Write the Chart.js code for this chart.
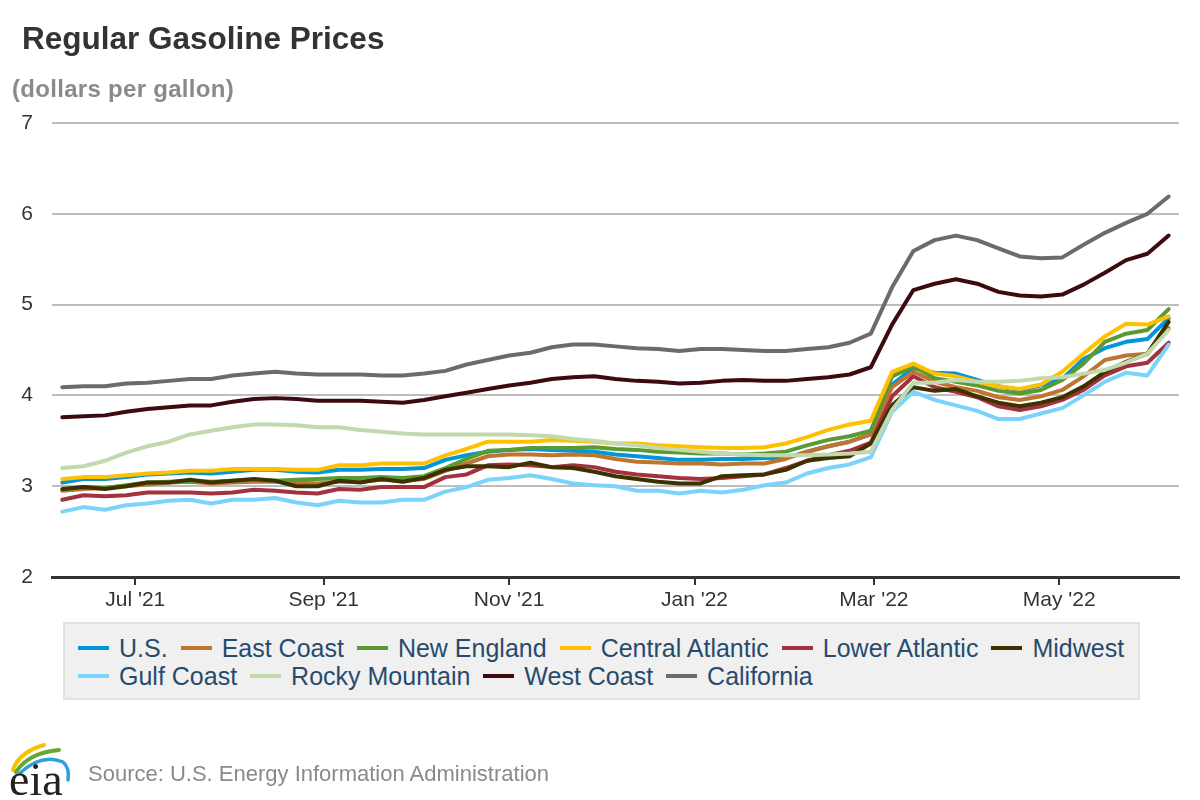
<!DOCTYPE html>
<html>
<head>
<meta charset="utf-8">
<script src="https://cdn.jsdelivr.net/npm/chart.js@4.4.0/dist/chart.umd.min.js"></script>
<style>
  html, body { margin: 0; padding: 0; background: #ffffff; }
  #wrap { position: relative; width: 1200px; height: 800px; overflow: hidden;
          font-family: "Liberation Sans", Arial, Helvetica, sans-serif; }
  #chart { position: absolute; left: 0; top: 0; }
  #title { position: absolute; left: 22px; top: 23px; font-size: 31.5px; line-height: 31.5px;
           font-weight: bold; color: #333333; white-space: nowrap; }
  #subtitle { position: absolute; left: 12px; top: 77px; font-size: 24px; line-height: 24px;
              font-weight: bold; color: #8a8a8a; letter-spacing: 0.3px; white-space: nowrap; }
  #legend { position: absolute; left: 63px; top: 622px; width: 1077px; box-sizing: border-box;
            background: #f0f0f0; border: 2px solid #e2e2e2; padding: 10px 0 8px 13px;
            display: flex; flex-wrap: wrap; column-gap: 13px; }
  #legend .item { display: flex; align-items: center; height: 28px; font-size: 25px;
                  color: #274b6d; white-space: nowrap; }
  #legend .sw { width: 31px; height: 4px; margin-right: 10px; }
  #source { position: absolute; left: 88px; top: 763px; font-size: 22px; line-height: 22px;
            color: #8a8a8a; white-space: nowrap; }
  #logo { position: absolute; left: 4px; top: 738px; }
</style>
</head>
<body>
<div id="wrap">
  <canvas id="chart" width="1200" height="800"></canvas>
  <div id="title">Regular Gasoline Prices</div>
  <div id="subtitle">(dollars per gallon)</div>
  <div id="legend"></div>
  <svg id="logo" width="70" height="62" viewBox="0 0 70 62">
    <path d="M9 32 Q 15 14 40 7" fill="none" stroke="#f3c300" stroke-width="4" stroke-linecap="round"/>
    <path d="M12 34 Q 24 15 55 12" fill="none" stroke="#6aa532" stroke-width="4" stroke-linecap="round"/>
    <path d="M15 36 Q 37 15 59 24 Q 66 30 64 42" fill="none" stroke="#2aa2dc" stroke-width="3.5" stroke-linecap="round"/>
    <text x="5" y="57" font-family="'Liberation Serif','DejaVu Serif',serif" font-size="46" fill="#222">eia</text>
  </svg>
  <div id="source">Source: U.S. Energy Information Administration</div>
</div>
<script>
// ---------- data ----------
const weeks = [
  '2021-06-07','2021-06-14','2021-06-21','2021-06-28','2021-07-05','2021-07-12','2021-07-19','2021-07-26',
  '2021-08-02','2021-08-09','2021-08-16','2021-08-23','2021-08-30','2021-09-06','2021-09-13','2021-09-20',
  '2021-09-27','2021-10-04','2021-10-11','2021-10-18','2021-10-25','2021-11-01','2021-11-08','2021-11-15',
  '2021-11-22','2021-11-29','2021-12-06','2021-12-13','2021-12-20','2021-12-27','2022-01-03','2022-01-10',
  '2022-01-17','2022-01-24','2022-01-31','2022-02-07','2022-02-14','2022-02-21','2022-02-28','2022-03-07',
  '2022-03-14','2022-03-21','2022-03-28','2022-04-04','2022-04-11','2022-04-18','2022-04-25','2022-05-02',
  '2022-05-09','2022-05-16','2022-05-23','2022-05-30','2022-06-06'
];

const usPrices = [3.04,3.08,3.08,3.10,3.13,3.14,3.15,3.14,3.16,3.18,3.18,3.16,3.15,3.18,3.18,3.19,3.19,3.20,3.29,3.34,3.38,
  3.40,3.41,3.40,3.39,3.38,3.35,3.33,3.31,3.29,3.29,3.30,3.30,3.31,3.31,3.38,3.44,3.49,3.57,
  4.12,4.30,4.25,4.24,4.17,4.10,4.06,4.11,4.18,4.40,4.52,4.59,4.62,4.85];
const eastCoast = [2.95,2.97,2.98,3.00,3.02,3.04,3.05,3.03,3.04,3.05,3.05,3.04,3.03,3.05,3.05,3.07,3.06,3.08,3.17,3.25,3.33,
  3.35,3.35,3.34,3.35,3.34,3.30,3.27,3.26,3.25,3.25,3.24,3.25,3.25,3.30,3.38,3.44,3.49,3.57,
  4.09,4.26,4.15,4.09,4.05,3.98,3.95,3.99,4.06,4.21,4.39,4.44,4.46,4.74];
const newEngland = [2.96,2.99,2.98,3.01,3.04,3.05,3.06,3.05,3.06,3.07,3.06,3.07,3.08,3.09,3.09,3.10,3.09,3.11,3.20,3.30,3.39,
  3.40,3.42,3.42,3.42,3.43,3.41,3.40,3.38,3.37,3.36,3.36,3.35,3.36,3.38,3.45,3.51,3.55,3.61,
  4.21,4.32,4.19,4.15,4.11,4.05,4.02,4.06,4.17,4.35,4.59,4.68,4.72,4.95];
const centralAtlantic = [3.08,3.10,3.10,3.12,3.14,3.15,3.17,3.17,3.19,3.19,3.19,3.18,3.18,3.23,3.23,3.25,3.25,3.25,3.34,3.41,3.49,
  3.49,3.49,3.51,3.50,3.49,3.47,3.47,3.45,3.44,3.43,3.42,3.42,3.43,3.47,3.54,3.62,3.68,3.72,
  4.26,4.35,4.24,4.21,4.15,4.10,4.07,4.12,4.26,4.46,4.65,4.79,4.78,4.87];
const lowerAtlantic = [2.85,2.90,2.89,2.90,2.93,2.93,2.93,2.92,2.93,2.96,2.95,2.93,2.92,2.97,2.96,2.99,2.99,2.99,3.10,3.13,3.23,
  3.24,3.23,3.21,3.23,3.21,3.16,3.13,3.11,3.09,3.08,3.09,3.11,3.13,3.20,3.28,3.34,3.39,3.48,
  3.99,4.21,4.09,4.04,3.98,3.88,3.84,3.88,3.95,4.06,4.22,4.32,4.36,4.58];
const midwest = [2.97,2.99,2.97,3.00,3.04,3.04,3.07,3.04,3.06,3.08,3.06,3.00,3.00,3.06,3.04,3.08,3.05,3.09,3.18,3.22,3.22,
  3.21,3.26,3.21,3.20,3.16,3.11,3.08,3.05,3.03,3.03,3.11,3.12,3.13,3.18,3.28,3.31,3.33,3.47,
  3.89,4.09,4.05,4.07,3.99,3.92,3.88,3.92,3.98,4.10,4.26,4.37,4.46,4.81];
const gulfCoast = [2.72,2.77,2.74,2.79,2.81,2.84,2.85,2.81,2.85,2.85,2.87,2.82,2.79,2.84,2.82,2.82,2.85,2.85,2.94,2.99,3.07,
  3.09,3.12,3.08,3.03,3.01,3.00,2.95,2.95,2.92,2.95,2.93,2.96,3.01,3.04,3.14,3.20,3.24,3.32,
  3.82,4.04,3.95,3.89,3.83,3.74,3.74,3.80,3.86,4.00,4.15,4.25,4.22,4.56];
const rockyMountain = [3.20,3.22,3.28,3.37,3.44,3.49,3.57,3.61,3.65,3.68,3.68,3.67,3.65,3.65,3.62,3.60,3.58,3.57,3.57,3.57,3.57,
  3.57,3.56,3.55,3.52,3.50,3.47,3.45,3.42,3.40,3.38,3.36,3.35,3.34,3.34,3.34,3.35,3.36,3.38,
  3.84,4.14,4.14,4.17,4.15,4.15,4.16,4.19,4.20,4.24,4.28,4.36,4.46,4.72];
const westCoast = [3.76,3.77,3.78,3.82,3.85,3.87,3.89,3.89,3.93,3.96,3.97,3.96,3.94,3.94,3.94,3.93,3.92,3.95,3.99,4.03,4.07,
  4.11,4.14,4.18,4.20,4.21,4.18,4.16,4.15,4.13,4.14,4.16,4.17,4.16,4.16,4.18,4.20,4.23,4.31,
  4.78,5.16,5.23,5.28,5.23,5.14,5.10,5.09,5.11,5.22,5.35,5.49,5.56,5.76];
const california = [4.09,4.10,4.10,4.13,4.14,4.16,4.18,4.18,4.22,4.24,4.26,4.24,4.23,4.23,4.23,4.22,4.22,4.24,4.27,4.34,4.39,
  4.44,4.47,4.53,4.56,4.56,4.54,4.52,4.51,4.49,4.51,4.51,4.50,4.49,4.49,4.51,4.53,4.58,4.68,
  5.19,5.59,5.71,5.76,5.71,5.62,5.53,5.51,5.52,5.66,5.79,5.90,6.00,6.19];

const seriesNames = ['U.S.','East Coast','New England','Central Atlantic','Lower Atlantic','Midwest',
  'Gulf Coast','Rocky Mountain','West Coast','California'];
const seriesValues = [usPrices, eastCoast, newEngland, centralAtlantic, lowerAtlantic, midwest,
  gulfCoast, rockyMountain, westCoast, california];
const seriesColors = ['#0096d7','#c0752f','#5b9a33','#ffc000','#a3323f','#3d3100',
  '#7bd3fb','#c1d9ad','#3c0a0f','#6b6b6b'];

const tickDates = ['2021-07-01','2021-09-01','2021-11-01','2022-01-01','2022-03-01','2022-05-01'];
const tickLabels = ["Jul '21","Sep '21","Nov '21","Jan '22","Mar '22","May '22"];
const yTicks = [2, 3, 4, 5, 6, 7];

// ---------- helpers ----------
function dayNum(s) {
  const p = s.split('-').map(Number);
  return Date.UTC(p[0], p[1] - 1, p[2]) / 86400000;
}
const weekDays = weeks.map(dayNum);
const tickDays = tickDates.map(dayNum);
const FONT = '"Liberation Sans", Arial, Helvetica, sans-serif';
Chart.defaults.font.family = FONT;

const datasets = seriesNames.map((name, k) => ({
  label: name,
  data: weekDays.map((d, i) => ({ x: d, y: seriesValues[k][i] })),
  borderColor: seriesColors[k],
  backgroundColor: seriesColors[k],
  borderWidth: 4,
  pointRadius: 0,
  pointHoverRadius: 0,
  tension: 0,
  borderJoinStyle: 'round',
  borderCapStyle: 'round',
  fill: false,
  order: -k
}));

const htmlLegend = {
  id: 'htmlLegend',
  afterUpdate(chart) {
    const box = document.getElementById('legend');
    box.innerHTML = '';
    chart.data.datasets.forEach(ds => {
      const item = document.createElement('div');
      item.className = 'item';
      const sw = document.createElement('span');
      sw.className = 'sw';
      sw.style.background = ds.borderColor;
      const tx = document.createElement('span');
      tx.textContent = ds.label;
      item.appendChild(sw);
      item.appendChild(tx);
      box.appendChild(item);
    });
  }
};

new Chart(document.getElementById('chart'), {
  type: 'line',
  data: { datasets },
  options: {
    responsive: false,
    animation: false,
    devicePixelRatio: 1,
    layout: { padding: { left: 0, right: 21, top: 123, bottom: 183 } },
    plugins: {
      legend: { display: false },
      tooltip: { enabled: false },
      title: { display: false }
    },
    scales: {
      x: {
        type: 'linear',
        min: weekDays[0] - 3.4,
        max: weekDays[weekDays.length - 1] + 3.4,
        afterBuildTicks: (s) => { s.ticks = tickDays.map(v => ({ value: v })); },
        afterFit: (s) => { s.height = 40; },
        ticks: {
          autoSkip: false, maxRotation: 0, minRotation: 0, padding: 3,
          color: '#333333', font: { size: 21, family: FONT },
          callback: (v) => { const k = tickDays.indexOf(v); return k >= 0 ? tickLabels[k] : ''; }
        },
        grid: { drawOnChartArea: false, drawTicks: true, tickLength: 8, color: '#333333', lineWidth: 2 },
        border: { display: true, color: '#333333', width: 3 }
      },
      y: {
        min: yTicks[0],
        max: yTicks[yTicks.length - 1],
        afterBuildTicks: (s) => { s.ticks = yTicks.map(v => ({ value: v })); },
        afterFit: (s) => { s.width = 52; },
        ticks: { padding: 19, color: '#333333', font: { size: 21, family: FONT } },
        grid: {
          drawTicks: false, lineWidth: 2,
          color: (ctx) => (ctx.tick && ctx.tick.value === yTicks[0]) ? 'rgba(0,0,0,0)' : '#bdbdbd'
        },
        border: { display: false }
      }
    }
  },
  plugins: [htmlLegend]
});
</script>
</body>
</html>
